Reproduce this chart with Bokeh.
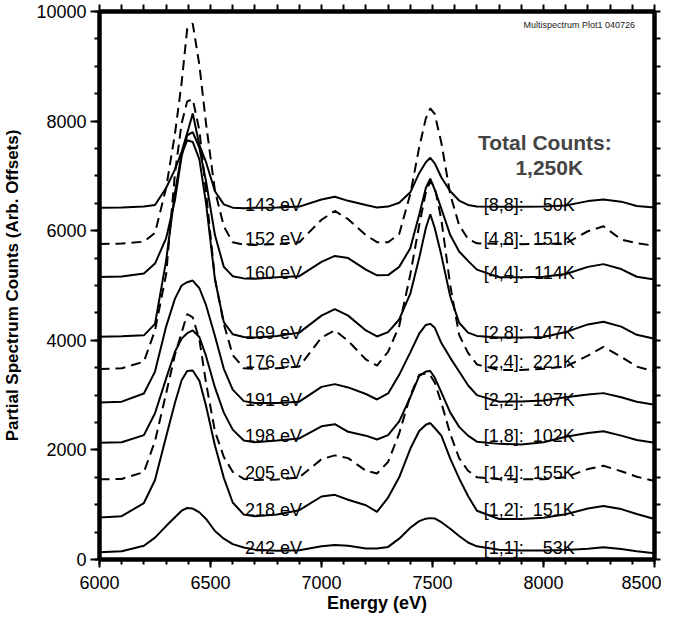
from bokeh.plotting import figure
from bokeh.models import Range1d, LinearAxis, FixedTicker, Label, ColumnDataSource
from bokeh.core.properties import value
from bokeh.embed import file_html
from bokeh.resources import INLINE

# ---------------- data ----------------
energy = [6000, 6100, 6200, 6250, 6300, 6340, 6370, 6395, 6420, 6450,
          6480, 6520, 6560, 6600, 6650, 6700, 6800, 6900, 7000, 7060,
          7120, 7200, 7250, 7300, 7350, 7400, 7440, 7470, 7490, 7510,
          7540, 7580, 7620, 7660, 7700, 7800, 7900, 8000, 8100, 8200,
          8270, 8350, 8420, 8500]

s143 = [6420, 6425, 6440, 6470, 6780, 7120, 7440, 7780, 8140, 7560,
        7250, 6720, 6480, 6420, 6410, 6420, 6423, 6440, 6570, 6620,
        6545, 6470, 6425, 6440, 6510, 6700, 7050, 7250, 7330, 7230,
        6970, 6720, 6550, 6470, 6440, 6435, 6435, 6440, 6460, 6540,
        6570, 6530, 6450, 6422]
s152 = [5758, 5765, 5800, 5960, 6780, 7770, 8700, 9680, 9780, 9020,
        7950, 6730, 6080, 5790, 5745, 5740, 5755, 5790, 6200, 6360,
        6210, 5920, 5790, 5790, 5940, 6670, 7520, 8050, 8230, 8130,
        7600, 6660, 6100, 5850, 5770, 5760, 5755, 5760, 5770, 5990,
        6080, 5840, 5770, 5727]
s160 = [5153, 5165, 5220, 5400, 5860, 6560, 7360, 7740, 7800, 7510,
        6900, 5920, 5340, 5170, 5130, 5125, 5150, 5170, 5430, 5540,
        5500, 5290, 5185, 5190, 5340, 5680, 6290, 6780, 6950, 6750,
        6400, 5920, 5620, 5450, 5290, 5150, 5150, 5160, 5210, 5340,
        5390, 5300, 5160, 5110]
s169 = [4064, 4075, 4090, 4300, 5450, 6700, 7400, 7650, 7620, 7300,
        6500, 5110, 4330, 4110, 4060, 4050, 4080, 4140, 4450, 4570,
        4450, 4180, 4070, 4150, 4380, 4850, 5500, 6050, 6300, 6050,
        5550, 4800, 4320, 4140, 4080, 4050, 4050, 4060, 4150, 4290,
        4340, 4250, 4100, 4030]
s176 = [3477, 3490, 3610, 4180, 5200, 7050, 7960, 8360, 8400, 7830,
        6700, 5130, 4300, 3730, 3490, 3480, 3490, 3520, 4050, 4180,
        3990, 3650, 3540, 3790, 4260, 5200, 6100, 6700, 6900, 6800,
        6200, 5000, 4100, 3770, 3560, 3460, 3460, 3480, 3520, 3720,
        3880, 3700, 3520, 3430]
s191 = [2867, 2880, 3030, 3429, 4250, 4760, 5000, 5060, 5090, 4950,
        4640, 4080, 3480, 3100, 2890, 2855, 2855, 2880, 3150, 3200,
        3140, 3020, 2920, 3030, 3370, 3780, 4120, 4280, 4300, 4230,
        3950, 3680, 3430, 3180, 3000, 2880, 2885, 2900, 2960, 3010,
        3036, 2960, 2880, 2824]
s198 = [2129, 2140, 2270, 2670, 3300, 3790, 4030, 4130, 4180, 4060,
        3710, 3140, 2680, 2370, 2170, 2140, 2170, 2210, 2430, 2470,
        2330, 2260, 2190, 2270, 2520, 2960, 3350, 3430, 3440, 3320,
        3050, 2680, 2420, 2260, 2150, 2110, 2100, 2140, 2240, 2310,
        2340, 2260, 2180, 2129]
s205 = [1463, 1470, 1595, 2160, 3030, 3740, 4140, 4480, 4420, 4010,
        3220, 2340, 1870, 1600, 1470, 1450, 1460, 1500, 1830, 1900,
        1850, 1620, 1570, 1780, 2300, 2990, 3370, 3395, 3360, 3230,
        2860, 2290, 1850, 1620, 1500, 1463, 1463, 1463, 1500, 1650,
        1710, 1610, 1510, 1433]
s218 = [768, 790, 1030, 1450, 2240, 2860, 3270, 3440, 3450, 3260,
        2800, 2080, 1490, 1040, 820, 790, 820, 900, 1150, 1180,
        1090, 990, 870, 1130, 1500, 2020, 2345, 2460, 2490, 2400,
        2260, 1840, 1480, 1160, 890, 740, 738, 760, 825, 930,
        975, 920, 830, 738]
s242 = [133, 150, 250, 400, 610, 770, 890, 940, 930, 860,
        740, 520, 380, 280, 220, 180, 160, 170, 240, 265,
        250, 200, 200, 230, 380, 580, 700, 745, 755, 750,
        680, 560, 430, 310, 240, 180, 165, 165, 175, 195,
        225, 190, 150, 115]

spectra = [s143, s152, s160, s169, s176, s191, s198, s205, s218, s242]
beam_labels = ["143 eV", "152 eV", "160 eV", "169 eV", "176 eV",
               "191 eV", "198 eV", "205 eV", "218 eV", "242 eV"]
pixel_labels = ["[8,8]:", "[4,8]:", "[4,4]:", "[2,8]:", "[2,4]:",
                "[2,2]:", "[1,8]:", "[1,4]:", "[1,2]:", "[1,1]:"]
count_labels = ["50K", "151K", "114K", "147K", "221K",
                "107K", "102K", "155K", "151K", "53K"]
dashed = [False, True, False, False, True, False, False, True, False, False]

x_major = [6000, 6500, 7000, 7500, 8000, 8500]
x_minor = list(range(6000, 8501, 100))
y_major = [0, 2000, 4000, 6000, 8000, 10000]
y_minor = list(range(0, 10001, 500))

# ---------------- layout constants ----------------
label_base = [6474, 5849, 5225, 4126, 3611, 2916, 2250, 1586, 902, 212]
FONT = "Liberation Sans"

p = figure(width=661, height=618,
           x_range=Range1d(6000, 8500), y_range=Range1d(0, 10000),
           output_backend="svg", toolbar_location=None,
           min_border_left=97, min_border_right=7,
           min_border_top=11, min_border_bottom=59,
           background_fill_color="white", border_fill_color="white")
p.xgrid.visible = False
p.ygrid.visible = False
p.outline_line_color = "black"
p.outline_line_width = 4


def style_axis(ax, tick_out, minor_out):
    ax.axis_line_width = 4
    ax.axis_line_color = "black"
    ax.major_tick_in = 0
    ax.minor_tick_in = 0
    ax.major_tick_out = tick_out
    ax.minor_tick_out = minor_out
    ax.major_tick_line_width = 2
    ax.minor_tick_line_width = 2
    ax.major_tick_line_color = "black"
    ax.minor_tick_line_color = "black"
    ax.major_label_text_font = FONT
    ax.major_label_text_font_size = "18px"
    ax.major_label_text_color = "black"
    ax.axis_label_text_font = FONT
    ax.axis_label_text_font_style = "bold"
    ax.axis_label_text_color = "black"


xb = p.xaxis[0]
xb.ticker = FixedTicker(ticks=x_major, minor_ticks=x_minor)
style_axis(xb, 8, 5)
xb.major_label_standoff = 8
xb.axis_label = "Energy (eV)"
xb.axis_label_text_font_size = "18px"
xb.axis_label_standoff = 1

yl = p.yaxis[0]
yl.ticker = FixedTicker(ticks=y_major, minor_ticks=y_minor)
style_axis(yl, 9, 5)
yl.major_label_standoff = 4
yl.axis_label = "Partial Spectrum Counts (Arb. Offsets)"
yl.axis_label_text_font_size = "17px"
yl.axis_label_standoff = 11

# top and right axes: tick marks only (no label texts)
xt = LinearAxis(ticker=FixedTicker(ticks=[], minor_ticks=x_minor))
style_axis(xt, 0, 7)
p.add_layout(xt, "above")

yr = LinearAxis(ticker=FixedTicker(ticks=[], minor_ticks=y_minor))
style_axis(yr, 0, 6)
p.add_layout(yr, "right")

for vals, d in zip(spectra, dashed):
    p.line(energy, vals, line_color="black", line_width=2,
           line_dash="10 6" if d else "solid")

src = ColumnDataSource(dict(
    x=[6655] * len(beam_labels), xr=[8141] * len(beam_labels),
    xk=[7731] * len(beam_labels), y=label_base,
    beam=beam_labels, key=pixel_labels, cnt=count_labels))
common = dict(text_font=value(FONT), text_font_size="18px",
              text_color="black", text_baseline="alphabetic")
p.text(x="x", y="y", text="beam", source=src, text_align="left", **common)
p.text(x="xk", y="y", text="key", source=src, text_align="left", **common)
p.text(x="xr", y="y", text="cnt", source=src, text_align="right", **common)

p.add_layout(Label(x=8006, y=7602, text="Total Counts:", text_align="center",
                   text_baseline="alphabetic", text_font=FONT,
                   text_font_size="21px", text_font_style="bold"))
p.add_layout(Label(x=8026, y=7148, text="1,250K", text_align="center",
                   text_baseline="alphabetic", text_font=FONT,
                   text_font_size="21px", text_font_style="bold"))
p.add_layout(Label(x=7910, y=9746, text="Multispectrum Plot1 040726",
                   text_align="left", text_baseline="alphabetic",
                   text_font=FONT, text_font_size="9px", text_color="#222222"))

open("out.html", "w").write(file_html(p, INLINE))
